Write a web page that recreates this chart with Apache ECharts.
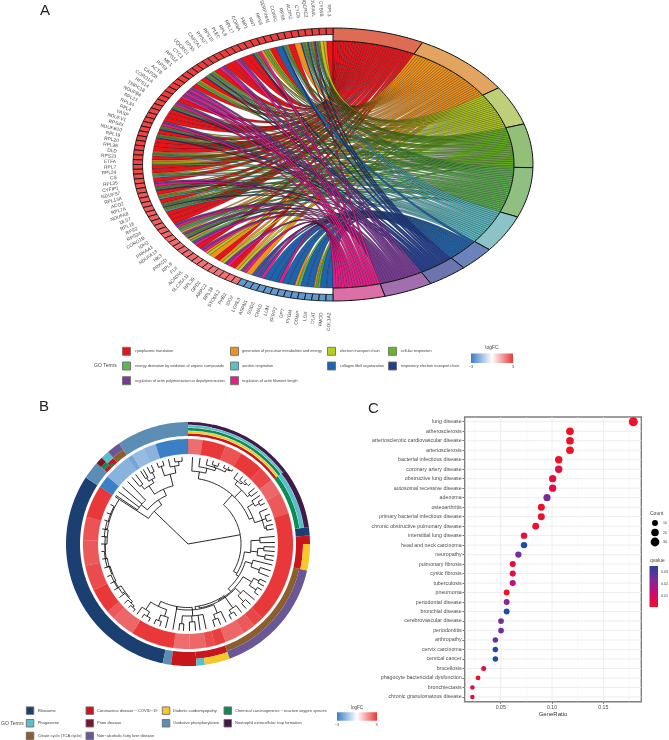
<!DOCTYPE html>
<html><head><meta charset="utf-8">
<style>html,body{margin:0;padding:0;background:#fff}#c{width:669px;height:740px}</style>
<script src="https://cdn.jsdelivr.net/npm/echarts@6/dist/echarts.min.js"></script>
</head><body><div id="c"></div>
<script>
const FONT='"Liberation Sans"';
/* ---------- Panel A data ---------- */
const genes=["RPL3","CYB5B","NDUFA4L","UQCRC2","CYCS","ALDH2","RPS6","COX6C","SERPINH1","RPS8","NNT","FBP1","COX8A","RPL17","RPL8","PLEC","RPS15","RPS27","CAPZA1","RPS5","UQCRC1","CYC1","RPS12","ME1","RPS3","ACTB","CAPZB","CORO1A","RPS14","TMPC18","NDUFB4","RPL23","RPL34","RPL4","VASP","NDUFV1","RPS4X","NDUFB10","RPL19","RPL20","RPL36","DLD","RPS23","ETFA","RPL7","RPL24","CS","RPL35","CYFIP1","NDUFS7","RPL13A","ACO2","RPL7A","NDUFA8","DLST","RPL18","RPS2","RPS24","CORO1B","IDH2","PRKAA1","NDUFA13","HK3","PRKCD","RPL9","FLII","ACADVL","SLC25A11","RPL39","GPD2","ARPC2","RPL38","STOML2","PHB2","IDO2","LOXL3","ASPN1","SOD3","CHAD","LUM","SFRP2","DPT","PYGM","COMP","LOX","DLAT","FMOD","COL1A2"];
const geneLogFC=[2.9,2.9,2.9,2.9,2.9,2.9,2.9,2.9,2.9,2.9,2.9,2.9,2.9,2.9,2.9,2.9,2.9,2.9,2.9,2.9,2.9,2.9,2.9,2.9,2.9,2.9,2.9,2.9,2.9,2.9,2.8,2.8,2.8,2.8,2.8,2.8,2.8,2.8,2.8,2.8,2.8,2.8,2.8,2.8,2.8,2.7,2.7,2.6,2.6,2.6,2.5,2.5,2.5,2.4,2.4,2.4,2.4,2.3,2.3,2.3,2.2,2.2,2.2,2.2,2.2,2.2,2.1,2.1,2.1,2.1,2.1,2.1,2.1,2.1,-2.4,-2.4,-2.4,-2.4,-2.4,-2.4,-2.4,-2.4,-2.4,-2.4,-2.4,-2.4,-2.4,-2.4];
const termNames=["cytoplasmic translation","generation of precursor metabolites and energy","electron transport chain","cellular respiration","energy derivation by oxidation of organic compounds","aerobic respiration","collagen fibril organization","respiratory electron transport chain","regulation of actin polymerization or depolymerization","regulation of actin filament length"];
const termColors=["#E8141C","#F3921A","#B8CE1E","#68B525","#5DB650","#5CC0C9","#1F63AE","#233E90","#7A3A98","#E61E8C"];
const termArcColors=["#DE6C55","#E2A45F","#BFCF77","#93BF78","#90BF82","#8BC3C7","#6C82BA","#6C75B0","#A26EAE","#DC6FA6"];
const termGenes=[
["RPL3","RPS6","RPS8","RPL17","RPL8","RPS15","RPS27","RPS5","RPS12","RPS3","RPS14","RPL23","RPL34","RPL4","RPS4X","RPL19","RPL20","RPL36","RPS23","RPL7","RPL24","RPL35","RPL13A","RPL7A","RPL18","RPS2","RPS24","RPL9","RPL39","RPL38"],
["CYB5B","NDUFA4L","UQCRC2","CYCS","ALDH2","COX6C","NNT","FBP1","COX8A","UQCRC1","CYC1","ME1","NDUFB4","NDUFV1","NDUFB10","DLD","ETFA","CS","NDUFS7","ACO2","NDUFA8","DLST","IDH2","PRKAA1","NDUFA13","HK3","ACADVL","SLC25A11","GPD2","STOML2","IDO2","PYGM","DLAT"],
["CYB5B","NDUFA4L","UQCRC2","CYCS","COX6C","COX8A","UQCRC1","CYC1","NDUFB4","NDUFV1","NDUFB10","DLD","ETFA","NDUFS7","NDUFA8","NDUFA13","ACADVL","GPD2","STOML2"],
["NDUFA4L","UQCRC2","CYCS","COX6C","NNT","COX8A","UQCRC1","CYC1","ME1","NDUFB4","NDUFV1","NDUFB10","DLD","CS","NDUFS7","ACO2","NDUFA8","DLST","IDH2","NDUFA13","DLAT"],
["NDUFA4L","UQCRC2","CYCS","COX6C","NNT","COX8A","UQCRC1","CYC1","ME1","NDUFB4","NDUFV1","NDUFB10","DLD","ETFA","CS","NDUFS7","ACO2","NDUFA8","DLST","IDH2","NDUFA13","HK3","PYGM","DLAT"],
["NDUFA4L","UQCRC2","CYCS","COX6C","COX8A","UQCRC1","CYC1","NDUFB4","NDUFV1","NDUFB10","DLD","CS","NDUFS7","ACO2","NDUFA8","DLST","IDH2","NDUFA13"],
["SERPINH1","LOXL3","ASPN1","SOD3","CHAD","LUM","SFRP2","DPT","COMP","LOX","FMOD","COL1A2"],
["NDUFA4L","UQCRC2","CYCS","COX6C","COX8A","UQCRC1","CYC1","NDUFB4","NDUFV1","NDUFB10","NDUFS7","NDUFA8","NDUFA13"],
["COX8A","PLEC","CAPZA1","ACTB","CAPZB","CORO1A","TMPC18","VASP","CYFIP1","CORO1B","PRKAA1","PRKCD","FLII","ARPC2","PHB2","LOXL3"],
["NDUFA4L","FBP1","PLEC","CAPZA1","ACTB","CAPZB","CORO1A","TMPC18","VASP","CYFIP1","CORO1B","PRKCD","FLII","ARPC2","PHB2","ASPN1","LUM"]];
/* ---------- Panel B data ---------- */
const pathwayNames=["Ribosome","Phagosome","Citrate cycle (TCA cycle)","Coronavirus disease \u2212 COVID\u221219","Prion disease","Non\u2212alcoholic fatty liver disease","Diabetic cardiomyopathy","Oxidative phosphorylation","Chemical carcinogenesis \u2212 reactive oxygen species","Neutrophil extracellular trap formation"];
const pathwayColors=["#1B3F70","#55BFCB","#8C5E2D","#C8161D","#7A1530","#6A5896","#F7C82A","#5B8DB5","#0F8A55","#421A4A"];
/* each row: pathway index, from angle, to angle, inner radius, outer radius */
const pathwayArcs=[
[0,192,303,108,122],[7,188,192,108,122],[7,303,311.5,108,122],[7,325.5,360,108,122],
[3,176,188,108,122],[3,160,176,108,115],[1,172,176,115,122],[6,160,172,115,122],
[2,102.5,160,108,114],[5,102.5,160,114,122],
[3,90,102.5,108,115],[6,90,102.5,115,122],[3,86,90,108,122],[0,82,86,108,122],
[3,0,53,108,110.5],[6,0,53,111,113],[8,0,53,113.4,116],[1,0,11.5,116.4,118.8],[9,0,11.5,119.2,122],
[1,11.5,53,116.4,118.4],[9,11.5,53,118.7,122],
[8,53,82,108,112.4],[1,53,82,112.7,116.8],[9,53,82,117.1,122],
[2,319,325.5,108,114.5],[5,319,325.5,114.5,122],[3,315,319,108,114],[8,315,317,108,111],[1,315,319,114,122],
[3,311.5,315,108,112],[8,311.5,315,112,116],[4,311.5,315,116,122]];
const heatEnd=[8,21,30.4,44,52.6,61,73,135,141,148,159,165,170,179,188,212,225,230,244,258,272,285,303,310,325,328,335,342,360];
const heatLogFC=[2.2,3,2.6,3,2.8,2.3,2.5,3,2.8,2.5,2.3,2.9,2.7,2.3,2.2,3,2.3,2.5,3,2.7,2.5,2.6,3,-3,-1.8,-2.1,-1.6,-1.8,-3];
/* dendrogram: [height, ...children]; height may be [height, pinned angle]; a bare number is a leaf angle */
const dendroTree=[0,
 [[53,80],
  [[66,42],
   [[73,9],3,[78,8,[81,13,[83,17,21],[84,25,[85,28,31]]]]],
   [76,[80,35,[82,39,[84,42,46]]],[79,50,53]],
   [[70,68],[77,56,[82,59,62]],[78,66,[82,70,74],[80,77,80]]]],
  [[57,121],
   [[63,98],[72,85,89],[70,[76,92,95],[78,98,101]]],
   [60,[67,104,[76,108,112]],
    [[64,138],[74,[80,116,119],[82,122,126]],
     [65,[72,130,[80,134,138]],
      [[63,170],[78,142,[82,146,150]],
       [66,[75,154,[80,158,162]],
        [[63.5,190],[72,168,172,[78,175,179],[80,183,186]],190,[69,[76,195,[82,199,203]],[78,[83,207,212],216]]]]]]]]]],
 [[47,314],
  [[82,303],303,[83,297,[82,291,[84,286,[81,280,[83,275,[83,270,[84,265,[82,260,[81,254,[83,248,[82,243,[79,238,[80,232,[82,227,[84,223,219]]]]]]]]]]]]]]]],
  [[53,326],[61,304,307,311,316],
   [60,[70,[75,320,323],[74,[78,327,329],[80,332,335]]],[72,[82,339,343],[79,347,[83,351,356]]]]]]];
/* ---------- Panel C data ---------- */
const diseases=["lung disease","atherosclerosis","arteriosclerotic cardiovascular disease","arteriosclerosis","bacterial infectious disease","coronary artery disease","obstructive lung disease","autosomal recessive disease","adenoma","osteoarthritis","primary bacterial infectious disease","chronic obstructive pulmonary disease","interstitial lung disease","head and neck carcinoma","neuropathy","pulmonary fibrosis","cystic fibrosis","tuberculosis","pneumonia","periodontal disease","bronchial disease","cerebrovascular disease","periodontitis","arthropathy","cervix carcinoma","cervical cancer","brucellosis","phagocyte bactericidal dysfunction","bronchiectasis","chronic granulomatous disease"];
const geneRatio=[0.1792,0.1175,0.1175,0.1175,0.1065,0.1065,0.1006,0.1006,0.0951,0.0896,0.0896,0.0841,0.0727,0.0727,0.0672,0.0617,0.0617,0.0617,0.0558,0.0558,0.0558,0.0503,0.0503,0.0448,0.0448,0.0448,0.0334,0.0279,0.0224,0.0224];
const geneCount=[32,21,21,21,19,19,18,18,17,16,16,15,13,13,12,11,11,11,10,10,10,9,9,8,8,8,6,5,4,4];
const qValue=[0.001,0.001,0.001,0.001,0.0015,0.005,0.004,0.006,0.021,0.002,0.002,0.002,0.003,0.03,0.021,0.003,0.005,0.012,0.001,0.018,0.03,0.021,0.022,0.022,0.03,0.03,0.005,0.002,0.006,0.005];
const xMajor=[0.05,0.10,0.15];
const xMinor=[0.025,0.075,0.125,0.175];

/* ---------- helpers ---------- */
const lerpHex=(a,b,t)=>{const p=s=>[1,3,5].map(i=>parseInt(s.substr(i,2),16));const A=p(a),B=p(b);return 'rgb('+A.map((v,i)=>Math.round(v+(B[i]-v)*t)).join(',')+')';};
const fcColor=v=>v>=0?lerpHex('#FFFFFF','#E8383A',Math.min(v/3,1)):lerpHex('#FFFFFF','#3B7FC6',Math.min(-v/3,1));
const rad=d=>d*Math.PI/180;
const pt=(t,r)=>[r*Math.cos(rad(t)),r*Math.sin(rad(t))];
/* Panel A geometry in unit-ellipse axis units */
const R_IN=0.905,SQ_IN=0.952;
const geneStep=180/genes.length;
const geneIdx={};genes.forEach((g,i)=>geneIdx[g]=i);
const total=termGenes.reduce((s,a)=>s+a.length,0);
const unit=180/total;
const geneTerms=genes.map(()=>[]);
termGenes.forEach((gs,t)=>gs.forEach(g=>geneTerms[geneIdx[g]].push(t)));
const links=[];const termSpans=[];let cum=0;
termGenes.forEach((gs,t)=>{
  const sorted=gs.map(g=>geneIdx[g]).sort((a,b)=>a-b);
  termSpans.push([90-cum*unit,90-(cum+sorted.length)*unit]);
  sorted.forEach(gi=>{
    const list=geneTerms[gi],j=list.indexOf(t),k=list.length;
    links.push({t,g0:90+geneStep*(gi+j/k),g1:90+geneStep*(gi+(j+1)/k),b0:90-cum*unit,b1:90-(cum+1)*unit});
    cum++;
  });
});
function bez(a,b,n){const o=[];for(let i=0;i<=n;i++){const s=i/n,u=1-s;o.push([u*u*a[0]+s*s*b[0],u*u*a[1]+s*s*b[1]]);}return o;}
function arcPts(t0,t1,r,stepDeg){const n=Math.max(1,Math.ceil(Math.abs(t1-t0)/stepDeg));const o=[];for(let i=0;i<=n;i++)o.push(pt(t0+(t1-t0)*i/n,r));return o;}
function ringPoly(api,t0,t1,r0,r1){return arcPts(t0,t1,r1,1.5).concat(arcPts(t1,t0,r0,1.5)).map(p=>api.coord(p));}
/* Panel B tree */
const dendroSegs=[];const LEAF_R=87;
(function walk(n){
  if(typeof n==='number')return {a:n,r:LEAF_R};
  const h=n[0];const r=Array.isArray(h)?h[0]:h;const ks=n.slice(1).map(walk);
  const a0=ks[0].a,a1=ks[ks.length-1].a;
  const a=Array.isArray(h)?h[1]:(a0+a1)/2;
  const as=ks.map(k=>k.a).concat([a]);
  ks.forEach(k=>dendroSegs.push({type:'rad',a:k.a,r0:r,r1:k.r}));
  if(r>0)dendroSegs.push({type:'arc',r,a0:Math.min.apply(null,as),a1:Math.max.apply(null,as)});
  return {a,r};
})(dendroTree);
const heatRows=heatEnd.map((e,i)=>[i===0?0:heatEnd[i-1],e,heatLogFC[i]]);
const polarPoly=(api,a0,a1,r0,r1)=>{const n=Math.max(1,Math.ceil((a1-a0)/1.5)),o=[];
  for(let i=0;i<=n;i++)o.push(api.coord([r1,a0+(a1-a0)*i/n]));
  for(let i=n;i>=0;i--)o.push(api.coord([r0,a0+(a1-a0)*i/n]));return o;};

/* ---------- series ---------- */
const series=[];
const AXA={coordinateSystem:'cartesian2d',xAxisIndex:0,yAxisIndex:0,silent:true,clip:false};
series.push(Object.assign({type:'custom',data:links.map((l,i)=>[i,0]),
 renderItem(p,api){const l=links[p.dataIndex];
  const pts=[pt(l.g0,R_IN),pt(l.g1,R_IN)].concat(bez(pt(l.g1,R_IN),pt(l.b1,R_IN),24),bez(pt(l.b0,R_IN),pt(l.g0,R_IN),24));
  return {type:'polygon',shape:{points:pts.map(q=>api.coord(q))},style:{fill:termColors[l.t],stroke:'rgba(10,10,10,0.75)',lineWidth:0.4}};
 }},AXA));
series.push(Object.assign({type:'custom',data:termSpans.map((s,i)=>[i,0]),
 renderItem(p,api){const s=termSpans[p.dataIndex];
  return {type:'polygon',shape:{points:ringPoly(api,s[0],s[1],R_IN,1)},style:{fill:termArcColors[p.dataIndex],stroke:'#111',lineWidth:1}};
 }},AXA));
series.push(Object.assign({type:'custom',data:genes.map((g,i)=>[i,0]),
 renderItem(p,api){const i=p.dataIndex,t0=90+geneStep*i,t1=t0+geneStep,tm=t0+geneStep/2;
  const q=api.coord(pt(tm,1.085));
  const rot=Math.atan2(-Math.sin(rad(tm)),-Math.cos(rad(tm)));
  return {type:'group',children:[
   {type:'polygon',shape:{points:ringPoly(api,t0,t1,SQ_IN,1)},style:{fill:fcColor(geneLogFC[i]),stroke:'#111',lineWidth:0.85}},
   {type:'text',x:q[0],y:q[1],rotation:rot,style:{text:genes[i],align:'right',verticalAlign:'middle',fontSize:4.8,fontFamily:FONT,fill:'#4a4a4a'}}
  ]};
 }},AXA));
/* Panel B */
const AXB={coordinateSystem:'polar',polarIndex:0,silent:true,clip:false};
series.push(Object.assign({type:'custom',data:heatRows.map(r=>[100,r[0]]),
 renderItem(p,api){const r=heatRows[p.dataIndex];
  return {type:'polygon',shape:{points:polarPoly(api,r[0],r[1],90,105)},style:{fill:fcColor(r[2]),stroke:fcColor(r[2]),lineWidth:0.2}};
 }},AXB));
series.push(Object.assign({type:'custom',data:pathwayArcs.map(r=>[r[3],r[1]]),
 renderItem(p,api){const r=pathwayArcs[p.dataIndex];
  return {type:'polygon',shape:{points:polarPoly(api,r[1],r[2],r[3],r[4])},style:{fill:pathwayColors[r[0]]}};
 }},AXB));
series.push(Object.assign({type:'custom',data:dendroSegs.map(()=>[50,0]),
 renderItem(p,api){const s=dendroSegs[p.dataIndex];let pts;
  if(s.type==='rad')pts=[api.coord([s.r0,s.a]),api.coord([s.r1,s.a])];
  else{pts=[];const n=Math.max(1,Math.ceil((s.a1-s.a0)/1.5));for(let i=0;i<=n;i++)pts.push(api.coord([s.r,s.a0+(s.a1-s.a0)*i/n]));}
  return {type:'polyline',shape:{points:pts},style:{stroke:'#111',lineWidth:0.9,fill:null}};
 }},AXB));
/* Panel C */
const gridRows=xMajor.map(v=>['v',v,0.9]).concat(xMinor.map(v=>['v',v,0.5]),diseases.map((d,i)=>['h',i,0.9]));
series.push({type:'custom',coordinateSystem:'cartesian2d',xAxisIndex:1,yAxisIndex:1,silent:true,z:1,
 data:gridRows.map(()=>[0.05,0]),
 renderItem(p,api){const g=gridRows[p.dataIndex],c=p.coordSys;let pts;
  if(g[0]==='v'){const x=api.coord([g[1],0])[0];pts=[[x,c.y],[x,c.y+c.height]];}
  else{const y=api.coord([0.05,g[1]])[1];pts=[[c.x,y],[c.x+c.width,y]];}
  return {type:'polyline',shape:{points:pts},style:{stroke:g[2]>0.6?'#EBEBEB':'#F2F2F2',lineWidth:g[2],fill:null}};
 }});
const dotSize=c=>4.5+4.5*(Math.sqrt(c)-2)/3.657;
const dotIndex=series.length;
series.push({type:'scatter',xAxisIndex:1,yAxisIndex:1,z:3,silent:true,itemStyle:{opacity:1},
 data:diseases.map((d,i)=>[geneRatio[i],i,qValue[i],geneCount[i]]),
 symbolSize:v=>dotSize(v[3]),encode:{x:0,y:1}});

/* ---------- legends ---------- */
const txt=(x,y,text,size,fill,align)=>({type:'text',x,y,silent:true,style:{text,fontSize:size,fontFamily:FONT,fill:fill||'#444',align:align||'left',verticalAlign:'middle'}});
const box=(x,y,w,fill)=>({type:'rect',x,y,silent:true,shape:{x:0,y:0,width:w,height:w},style:{fill,stroke:'#6E6E6E',lineWidth:0.9}});
const grad=(x,y,w,h)=>({type:'rect',x,y,silent:true,shape:{x:0,y:0,width:w,height:h},style:{fill:new echarts.graphic.LinearGradient(0,0,1,0,[{offset:0,color:'#3B7FC6'},{offset:0.5,color:'#FFFFFF'},{offset:1,color:'#E8383A'}])}});
const gfx=[txt(40,11,'A',15,'#222'),txt(39,407,'B',15,'#222'),txt(368,409,'C',15,'#222')];
const aCols=[[122,135],[230,242],[327,340],[388,400.7]],aRows=[351.3,366,380.7];
const aOrder=[[0,0,0],[1,0,1],[2,0,2],[3,0,3],[4,1,0],[5,1,1],[6,1,2],[7,1,3],[8,2,0],[9,2,1]];
aOrder.forEach(o=>{const c=aCols[o[2]],y=aRows[o[1]];gfx.push(box(c[0]+.5,y-4,8,termColors[o[0]]),txt(c[1],y,termNames[o[0]],3.8));});
gfx.push(txt(94,366,'GO Terms',5),grad(471,353.5,42,9.5),txt(492,347.5,'logFC',5,'#444','center'),txt(471,367,'\u22123',3.8,'#444','center'),txt(513,367,'3',3.8,'#444','center'));
const bCols=[[26,37.7],[85.7,97],[162,173],[223.7,235]],bRows=[710.7,723.3,736];
const bOrder=[[0,0,0],[1,1,0],[2,2,0],[3,0,1],[4,1,1],[5,2,1],[6,0,2],[7,1,2],[8,0,3],[9,1,3]];
bOrder.forEach(o=>{const c=bCols[o[2]],y=bRows[o[1]];gfx.push(box(c[0]+.3,y-3.8,7.5,pathwayColors[o[0]]),txt(c[1],y,pathwayNames[o[0]],4));});
gfx.push(txt(1,723.3,'GO Terms',5),grad(337,712.3,40,8.5),txt(357,707.5,'logFC',4.6,'#444','center'),txt(337,724.7,'\u22123',3.8,'#444','center'),txt(376.5,724.7,'3',3.8,'#444','center'));
gfx.push(txt(650,514,'Count',5));
[[523,10],[532.5,20],[542,30]].forEach(r=>{gfx.push({type:'circle',silent:true,x:655,y:r[0],shape:{cx:0,cy:0,r:dotSize(r[1])/2},style:{fill:'#000'}},txt(663,r[0],String(r[1]),3.6));});
gfx.push(txt(650,561,'qvalue',5));
gfx.push({type:'rect',x:649.5,y:566,silent:true,shape:{x:0,y:0,width:8.5,height:41},style:{fill:new echarts.graphic.LinearGradient(0,0,0,1,[{offset:0,color:'#2E3F9E'},{offset:0.33,color:'#7B2D96'},{offset:0.66,color:'#CC0A70'},{offset:1,color:'#EE1226'}])}});
[[571.7,'0.03'],[583.7,'0.02'],[595.7,'0.01']].forEach(r=>gfx.push(txt(661,r[0],r[1],3.6)));

const hiddenVal={type:'value',min:-1,max:1,show:false};
const option={
 animation:false,
 grid:[{left:133,top:28,width:400,height:273,show:false},
       {left:464.7,top:417,width:176.6,height:284.7,show:true,borderColor:'#7F7F7F',borderWidth:1.4,backgroundColor:'#fff'}],
 xAxis:[Object.assign({gridIndex:0},hiddenVal),
  {gridIndex:1,type:'value',min:0.0149,max:0.187,splitLine:{show:false},axisLine:{show:false},
   axisTick:{show:true,length:2,lineStyle:{color:'#333',width:0.7},customValues:xMajor},
   axisLabel:{fontSize:5.2,fontFamily:FONT,color:'#4D4D4D',margin:3,customValues:xMajor,formatter:v=>v.toFixed(2)},
   name:'GeneRatio',nameLocation:'middle',nameGap:9.5,nameTextStyle:{fontSize:6,fontFamily:FONT,color:'#333'}}],
 yAxis:[Object.assign({gridIndex:0},hiddenVal),
  {gridIndex:1,type:'category',data:diseases,inverse:true,boundaryGap:true,splitLine:{show:false},axisLine:{show:false},
   axisTick:{show:true,alignWithLabel:true,length:2.2,lineStyle:{color:'#333',width:0.7}},
   axisLabel:{interval:0,fontSize:5.3,fontFamily:FONT,color:'#4D4D4D',margin:3}}],
 polar:{center:[188,544],radius:122},
 radiusAxis:{polarIndex:0,type:'value',min:0,max:122,show:false},
 angleAxis:{polarIndex:0,type:'value',min:0,max:360,startAngle:90,clockwise:true,show:false},
 visualMap:{show:false,type:'continuous',seriesIndex:dotIndex,dimension:2,min:0.001,max:0.03,
  inRange:{color:['#EE1226','#CC0A70','#7B2D96','#1C4BA8']}},
 graphic:gfx,
 series
};
const chart=echarts.init(document.getElementById('c'),null,{renderer:'canvas',width:669,height:740});
chart.setOption(option);
</script></body></html>
